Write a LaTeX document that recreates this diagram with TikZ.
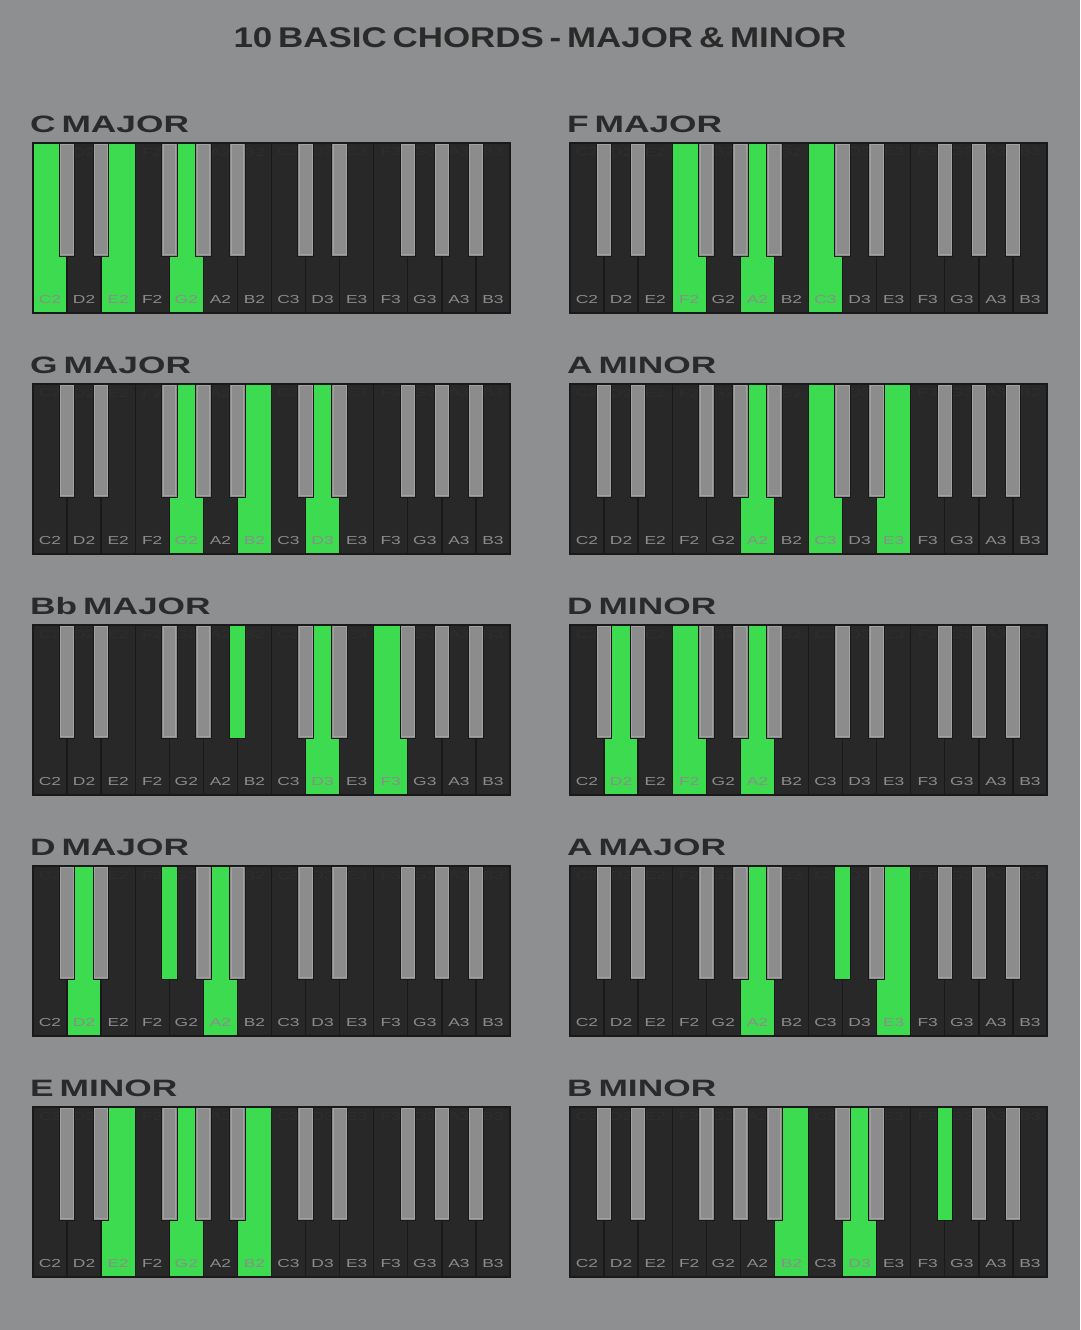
\documentclass[tikz,border=0pt]{standalone}
\usepackage{fontspec}
\setmainfont{Liberation Sans}
\newfontfamily\titlefont[FakeStretch=1.225,WordSpace=0.6]{Liberation Sans}
\newfontfamily\chordfont[FakeStretch=1.49,WordSpace=0.6]{Liberation Sans}
\newfontfamily\keyfont[FakeStretch=1.5]{Liberation Sans}
\definecolor{bg}{HTML}{8E8F91}
\definecolor{wk}{HTML}{282828}
\definecolor{bk}{HTML}{8C8C8C}
\definecolor{bkrim}{HTML}{A2A2A2}
\definecolor{grn}{HTML}{3DDC50}
\definecolor{lbl}{HTML}{8C8C8C}
\definecolor{ink}{HTML}{2A2A2A}
\definecolor{ghost}{HTML}{2E2E2E}
\tikzset{
  chordtitle/.style={anchor=base west, inner sep=0, text=ink,
    font=\chordfont\bfseries\fontsize{23.7}{24}\selectfont},
  keylbl/.style={anchor=center, inner sep=0, text=lbl,
    font=\keyfont\fontsize{11.6}{12}\selectfont},
  ghostlbl/.style={keylbl, text=ghost},
  sep/.style={draw=black!90, line width=1.4pt},
  kbborder/.style={draw=black!90, line width=1.4pt},
  blackkey/.style={fill=bk, draw=black!90, line width=1pt},
  greenblack/.style={fill=grn, draw=black!90, line width=1pt},
  rim/.style={draw=bkrim, line width=0.7pt},
}
\newcommand\kbd[6]{%
  \node[chordtitle] (#1t) at (#2-3,#3-11) {#4};
  \fill[wk] (#2,#3) rectangle ++(477,170);
  \foreach \lab [count=\k from 0] in {C2,D2,E2,F2,G2,A2,B2,C3,D3,E3,F3,G3,A3,B3} {
    \node[ghostlbl] (#1g\k) at ({#2+(\k+0.5)*34.0714},#3+9) {\lab};
  }
  \foreach \k in {#5} {
    \fill[grn] ({#2+\k*34.0714},#3) rectangle ++(34.0714,170);
  }
  \foreach \lab [count=\k from 0] in {C2,D2,E2,F2,G2,A2,B2,C3,D3,E3,F3,G3,A3,B3} {
    \node[keylbl] (#1l\k) at ({#2+(\k+0.5)*34.0714},#3+156.5) {\lab};
  }
  \foreach \k in {1,...,13} {
    \draw[sep] ({#2+\k*34.0714},#3) -- ++(0,170);
  }
  \draw[kbborder] (#2,#3) rectangle ++(477,170);
  \foreach \b in {1,2,4,5,6,8,9,11,12,13} {
    \path[blackkey] ({#2+\b*34.0714-7.75},#3) rectangle ++(15.5,113);
    \path[rim] ({#2+\b*34.0714-6.4},#3+1) rectangle ++(12.8,110.6);
  }
  \foreach \b in {#6} {
    \ifnum\b<20
      \path[greenblack] ({#2+\b*34.0714-7.75},#3) rectangle ++(15.5,113);
    \fi
  }
}
\begin{document}
\begin{tikzpicture}[x=1pt,y=-1pt]
\useasboundingbox (0,0) rectangle (1080,1330);
\fill[bg] (0,0) rectangle (1080,1330);
\node[anchor=base, inner sep=0, text=ink,
  font=\titlefont\bfseries\fontsize{28.5}{29}\selectfont] (title) at (540,47.5)
  {10 BASIC CHORDS - MAJOR \& MINOR};
\kbd{cmaj}{33}{143}{C MAJOR}{0,2,4}{99}
\kbd{fmaj}{570}{143}{F MAJOR}{3,5,7}{99}
\kbd{gmaj}{33}{384}{G MAJOR}{4,6,8}{99}
\kbd{amin}{570}{384}{A MINOR}{5,7,9}{99}
\kbd{bbmaj}{33}{625}{Bb MAJOR}{8,10}{6}
\kbd{dmin}{570}{625}{D MINOR}{1,3,5}{99}
\kbd{dmaj}{33}{866}{D MAJOR}{1,5}{4}
\kbd{amaj}{570}{866}{A MAJOR}{5,9}{8}
\kbd{emin}{33}{1107}{E MINOR}{2,4,6}{99}
\kbd{bmin}{570}{1107}{B MINOR}{6,8}{11}
\end{tikzpicture}
\end{document}
